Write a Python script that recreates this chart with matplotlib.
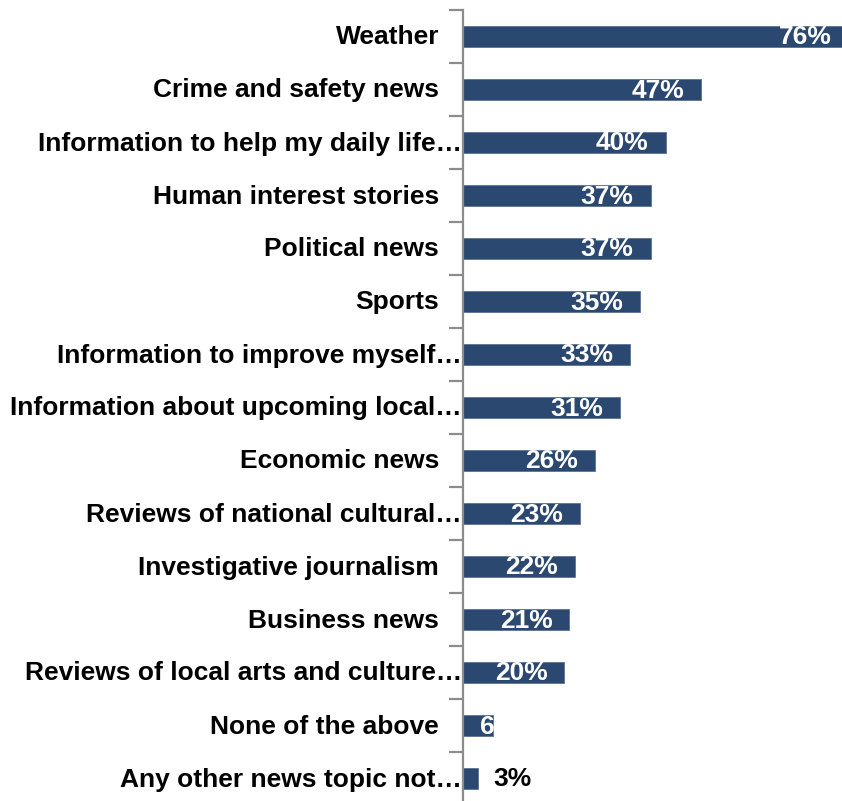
import matplotlib
matplotlib.use('Agg')
import matplotlib.pyplot as plt
from matplotlib.ticker import FixedLocator, NullFormatter
from matplotlib.transforms import offset_copy

plt.rcParams['font.family'] = ['Liberation Sans', 'DejaVu Sans']

topics = ['Weather',
          'Crime and safety news',
          'Information to help my daily life…',
          'Human interest stories',
          'Political news',
          'Sports',
          'Information to improve myself…',
          'Information about upcoming local…',
          'Economic news',
          'Reviews of national cultural…',
          'Investigative journalism',
          'Business news',
          'Reviews of local arts and culture…',
          'None of the above',
          'Any other news topic not…']
shares = [76, 47, 40, 37, 37, 35, 33, 31, 26, 23, 22, 21, 20, 6, 3]
value_labels = ['76%', '47%', '40%', '37%', '37%', '35%', '33%', '31%',
                '26%', '23%', '22%', '21%', '20%', '6%', '3%']

BAR = '#2B4870'
AXIS = '#8C8C8C'
FS = 19

fig = plt.figure(figsize=(8.42, 8.01), dpi=100)
W, H = 842, 801
# plot area: axis line at x=463, rows 53px apart starting at y=10
x0, ytop, row = 463, 10, 53.0
n = len(topics)
ybot = ytop + n * row
ax = fig.add_axes([x0 / W, 1 - ybot / H, 1 - x0 / W, (ybot - ytop) / H])

px_per_pct = 5.07
ax.set_xlim(0, (W - x0) / px_per_pct)
ax.set_ylim(n - 0.5, -0.5)

pos = list(range(n))
ax.barh(pos, shares, height=0.4, color=BAR, edgecolor='#5A7394', linewidth=0.6)

for s in ['top', 'right', 'bottom']:
    ax.spines[s].set_visible(False)
ax.spines['left'].set_color(AXIS)
ax.spines['left'].set_linewidth(1.6)
ax.set_xticks([])
ax.yaxis.set_major_locator(FixedLocator(pos))
ax.yaxis.set_major_formatter(NullFormatter())
ax.tick_params(axis='y', which='major', length=0)
ax.yaxis.set_minor_locator(FixedLocator([p - 0.5 for p in range(n + 1)]))
ax.tick_params(axis='y', which='minor', length=10, width=1.6, color=AXIS)

# category names: truncated ones run up to the axis line
for i, name in enumerate(topics):
    gap = -1 if name.endswith('…') else -24
    tr = offset_copy(ax.get_yaxis_transform(), fig=fig, x=gap, y=-1, units='dots')
    ax.text(0, i, name, transform=tr, ha='right', va='center',
            fontsize=FS, fontweight='bold', color='black')

for i, (v, lab) in enumerate(zip(shares, value_labels)):
    if v >= 10:
        ax.annotate(lab, (v, i), xytext=(-17, -1), textcoords='offset pixels',
                    ha='right', va='center', fontsize=FS, fontweight='bold',
                    color='white', annotation_clip=False)
    elif v >= 5:
        ax.annotate(lab, (v, i), xytext=(-13, -1), textcoords='offset pixels',
                    ha='left', va='center', fontsize=FS, fontweight='bold',
                    color='white')
    else:
        ax.annotate(lab, (v, i), xytext=(15, -1), textcoords='offset pixels',
                    ha='left', va='center', fontsize=FS, fontweight='bold',
                    color='black')

fig.savefig('out.png', dpi=100, facecolor='white')
